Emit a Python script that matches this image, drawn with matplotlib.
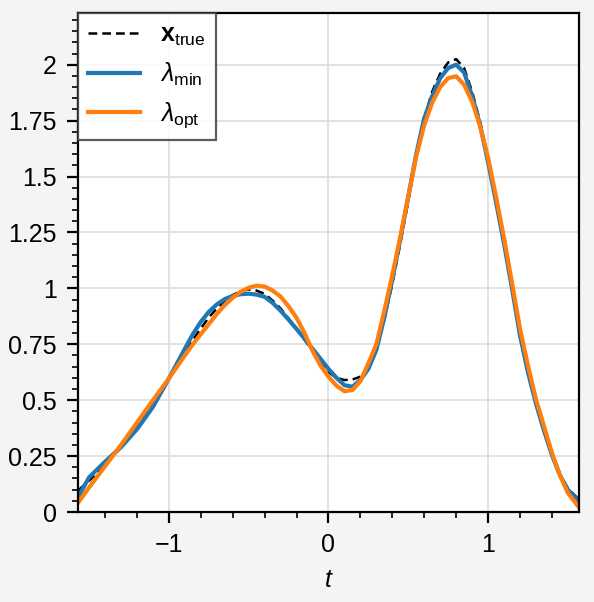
import matplotlib
matplotlib.use('Agg')
from matplotlib import pyplot as plt
from matplotlib.ticker import MultipleLocator, FuncFormatter
import numpy as np

plt.rcParams['font.family'] = ['Liberation Sans', 'DejaVu Sans']
plt.rcParams['mathtext.fontset'] = 'custom'
plt.rcParams['mathtext.rm'] = 'Liberation Sans'
plt.rcParams['mathtext.it'] = 'Liberation Sans:italic'
plt.rcParams['mathtext.bf'] = 'Liberation Sans:bold'
plt.rcParams['font.size'] = 9

# values
t = [-1.5708, -1.5, -1.4, -1.3, -1.2, -1.1, -1.0, -0.9,
     -0.85, -0.8, -0.75, -0.7, -0.65, -0.6, -0.55, -0.5, -0.45, -0.4,
     -0.35, -0.3, -0.25, -0.2, -0.15, -0.1, -0.05,
     0.0, 0.05, 0.1, 0.15, 0.2, 0.25, 0.3, 0.35, 0.4, 0.45, 0.5, 0.55,
     0.6, 0.65, 0.7, 0.75, 0.8, 0.85, 0.9, 0.95,
     1.0, 1.05, 1.1, 1.15, 1.2, 1.25, 1.3, 1.35, 1.4, 1.45, 1.5,
     1.5708]
x_true = [0.095, 0.14, 0.21, 0.29, 0.39, 0.49, 0.60, 0.71,
          0.77, 0.82, 0.87, 0.91, 0.945, 0.97, 0.988, 0.995, 0.99, 0.975,
          0.945, 0.91, 0.865, 0.82, 0.77, 0.72, 0.67,
          0.625, 0.60, 0.59, 0.592, 0.605, 0.645, 0.73, 0.86, 1.02, 1.20,
          1.39, 1.59, 1.76, 1.88, 1.96, 2.01, 2.025, 1.985, 1.88, 1.745,
          1.575, 1.39, 1.20, 1.0, 0.79, 0.625, 0.485, 0.365, 0.255, 0.17,
          0.105, 0.055]
lam_min = [0.065, 0.155, 0.225, 0.29, 0.37, 0.47, 0.597, 0.73,
           0.795, 0.85, 0.895, 0.928, 0.952, 0.966, 0.974, 0.976, 0.972,
           0.962, 0.935, 0.90, 0.86, 0.818, 0.775, 0.73, 0.685,
           0.64, 0.60, 0.567, 0.56, 0.59, 0.64, 0.725, 0.87, 1.04, 1.22,
           1.41, 1.60, 1.76, 1.86, 1.94, 1.985, 2.0, 1.965, 1.86, 1.73,
           1.565, 1.385, 1.20, 1.0, 0.79, 0.625, 0.485, 0.365, 0.255, 0.165,
           0.10, 0.045]
lam_opt = [0.04, 0.11, 0.205, 0.30, 0.40, 0.50, 0.597, 0.70,
           0.75, 0.795, 0.84, 0.885, 0.925, 0.958, 0.985, 1.003, 1.012,
           1.008, 0.99, 0.963, 0.92, 0.868, 0.80, 0.72, 0.655,
           0.605, 0.565, 0.54, 0.545, 0.585, 0.665, 0.75, 0.90, 1.06, 1.23,
           1.41, 1.59, 1.73, 1.83, 1.90, 1.94, 1.948, 1.91, 1.835, 1.725,
           1.585, 1.41, 1.225, 1.025, 0.82, 0.655, 0.505, 0.385, 0.265, 0.165,
           0.085, 0.02]
labels = [r'$\mathbf{x}_\mathrm{true}$', r'$\lambda_\mathrm{min}$',
          r'$\lambda_\mathrm{opt}$']

fig = plt.figure(figsize=(2.97, 3.01), dpi=200, facecolor='#f4f4f4')
ax = fig.add_axes([0.131, 0.1495, 0.844, 0.8285])
ax.plot(t, x_true, color='black', lw=0.9, ls=(0, (3.5, 2)), label=labels[0])
ax.plot(t, lam_min, color='#1f77b4', lw=1.5, label=labels[1])
ax.plot(t, lam_opt, color='#ff7f0e', lw=1.5, label=labels[2])

ax.set_xlim(-np.pi/2, np.pi/2)
ax.set_ylim(0, 2.23)
ax.set_xlabel('$t$', labelpad=4)

fmt = FuncFormatter(lambda v, p: f'{v:g}'.replace('-', '\u2212'))
ax.xaxis.set_major_locator(MultipleLocator(1))
ax.xaxis.set_minor_locator(MultipleLocator(0.2))
ax.yaxis.set_major_locator(MultipleLocator(0.25))
ax.yaxis.set_minor_locator(MultipleLocator(0.05))
ax.xaxis.set_major_formatter(fmt)
ax.yaxis.set_major_formatter(fmt)
ax.tick_params(which='major', length=4, width=0.8, direction='out', labelsize=9)
ax.tick_params(which='minor', length=2, width=0.6, direction='out')
for s in ax.spines.values():
    s.set_linewidth(0.8)
ax.grid(True, which='major', color='#dddddd', lw=0.6)
ax.set_axisbelow(True)

leg = ax.legend(loc='upper left', borderaxespad=0, fancybox=False,
                edgecolor='#333333', framealpha=0.8, fontsize=9,
                handlelength=2.1)
leg.get_frame().set_linewidth(0.8)

fig.savefig('out.png', dpi=200, facecolor=fig.get_facecolor())
